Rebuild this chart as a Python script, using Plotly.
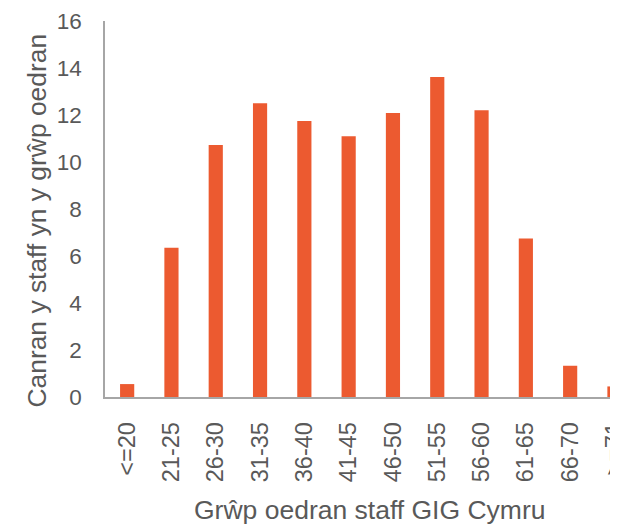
import plotly.graph_objects as go

categories = ["<=20", "21-25", "26-30", "31-35", "36-40", "41-45", "46-50",
              "51-55", "56-60", "61-65", "66-70", ">=71"]
values = [0.55, 6.35, 10.72, 12.5, 11.75, 11.1, 12.08, 13.62, 12.2, 6.75, 1.33, 0.45]
y_ticks = [0, 2, 4, 6, 8, 10, 12, 14, 16]
x_title = "Grŵp oedran staff GIG Cymru"
y_title = "Canran y staff yn y grŵp oedran"

bar_color = "#EC5A30"
text_color = "#595959"
axis_color = "#A6A6A6"

fig = go.Figure(go.Bar(x=categories, y=values, marker_color=bar_color,
                       marker_line_width=0))

# page body has an 8px margin, so the figure is sized to the visible area
fig.update_layout(
    width=610, height=517,
    margin=dict(l=97, r=0, t=13, b=128),
    paper_bgcolor="white", plot_bgcolor="white",
    bargap=0.68,
    showlegend=False,
    font=dict(family="Liberation Sans, Arial, sans-serif", color=text_color),
)
fig.update_xaxes(
    type="category",
    range=[-0.5, 11.08],
    automargin=False,
    tickangle=-90,
    tickfont=dict(size=23.5, color=text_color),
    showline=True, linecolor=axis_color, linewidth=1.5,
    showgrid=False, ticks="", ticklabelstandoff=14,
)
fig.update_yaxes(
    range=[0, 16],
    automargin=False,
    tickvals=y_ticks,
    tickfont=dict(size=22.5, color=text_color),
    showline=True, linecolor=axis_color, linewidth=1.5,
    showgrid=False, zeroline=False, ticks="", ticklabelstandoff=17,
)
fig.add_annotation(text=x_title, xref="paper", yref="paper", x=0.5166, y=-0.3005,
                   xanchor="center", yanchor="middle", showarrow=False,
                   font=dict(size=26.5, color=text_color))
fig.add_annotation(text=y_title, xref="paper", yref="paper", x=-0.1316, y=0.4707,
                   xanchor="center", yanchor="middle", showarrow=False, textangle=-90,
                   font=dict(size=26.4, color=text_color))

fig.write_html("out.html")
